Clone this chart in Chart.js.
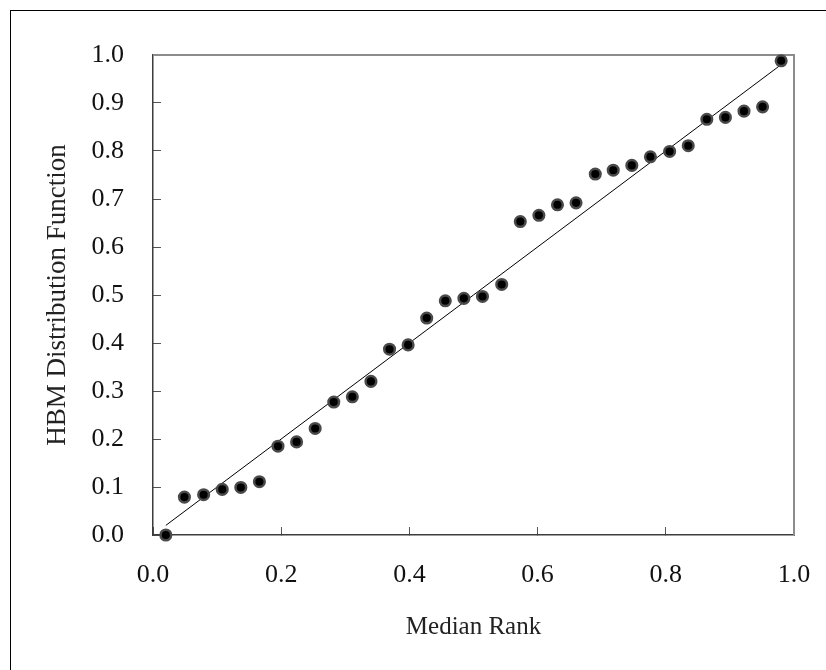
<!DOCTYPE html>
<html>
<head>
<meta charset="utf-8">
<script src="https://cdn.jsdelivr.net/npm/chart.js@4.4.1/dist/chart.umd.min.js"></script>
<style>
    html, body { margin: 0; padding: 0; background: #fff; }
    #wrap { width: 826px; height: 670px; }
</style>
</head>
<body>
<div id="wrap"><canvas id="rankChart" width="826" height="670"></canvas></div>
<script>
var medianRank = [0.020, 0.049, 0.079, 0.108, 0.137, 0.166, 0.195, 0.224, 0.253, 0.282,
    0.311, 0.340, 0.369, 0.398, 0.427, 0.456, 0.485, 0.514, 0.544, 0.573,
    0.602, 0.631, 0.660, 0.690, 0.718, 0.747, 0.776, 0.806, 0.835, 0.864,
    0.893, 0.922, 0.951, 0.980];
var hbmValues = [0.000, 0.079, 0.084, 0.095, 0.099, 0.111, 0.185, 0.194, 0.222, 0.277,
    0.288, 0.320, 0.387, 0.396, 0.452, 0.488, 0.493, 0.497, 0.522, 0.653,
    0.666, 0.688, 0.692, 0.752, 0.760, 0.770, 0.788, 0.799, 0.811, 0.866,
    0.870, 0.883, 0.892, 0.988];
var refLineX = [0.02, 0.98];
var refLineY = [0.02, 0.98];
var xTicks = [0, 0.2, 0.4, 0.6, 0.8, 1.0];
var yTicks = [0, 0.1, 0.2, 0.3, 0.4, 0.5, 0.6, 0.7, 0.8, 0.9, 1.0];

var serif = "'Liberation Serif', 'Times New Roman', serif";

var toPoints = function(xs, ys) {
    return xs.map(function(x, i) {
        return { x: x, y: ys[i] };
    });
};

// white page, outer frame and the grey top/right edges of the plot box
var framePlugin = {
    id: 'frame',
    beforeDraw: function(chart) {
        var ctx = chart.ctx;
        ctx.save();
        ctx.fillStyle = '#fff';
        ctx.fillRect(0, 0, chart.width, chart.height);
        ctx.strokeStyle = '#000';
        ctx.lineWidth = 1;
        ctx.strokeRect(10.5, 10.5, 840, 700);
        ctx.restore();
    },
    beforeDatasetsDraw: function(chart) {
        var a = chart.chartArea;
        var ctx = chart.ctx;
        ctx.save();
        ctx.strokeStyle = '#8c8c8c';
        ctx.lineWidth = 2;
        ctx.beginPath();
        ctx.moveTo(a.left, a.top);
        ctx.lineTo(a.right, a.top);
        ctx.lineTo(a.right, a.bottom);
        ctx.stroke();
        ctx.restore();
    }
};

new Chart(document.getElementById('rankChart'), {
    type: 'scatter',
    data: {
        datasets: [{
            label: 'HBM',
            data: toPoints(medianRank, hbmValues),
            backgroundColor: '#000',
            borderColor: '#4a4a4a',
            borderWidth: 2.5,
            pointRadius: 5.3,
            clip: false
        }, {
            type: 'line',
            label: 'y = x',
            data: toPoints(refLineX, refLineY),
            borderColor: '#000',
            borderWidth: 1,
            pointRadius: 0,
            fill: false
        }]
    },
    options: {
        responsive: false,
        animation: false,
        events: [],
        layout: { padding: { left: 0, top: 55, right: 32, bottom: 0 } },
        plugins: {
            legend: { display: false },
            tooltip: { enabled: false }
        },
        scales: {
            x: {
                type: 'linear',
                min: 0,
                max: 1,
                afterBuildTicks: function(scale) {
                    scale.ticks = xTicks.map(function(v) { return { value: v }; });
                },
                afterFit: function(scale) {
                    scale.height = 135;
                    // big tick padding would otherwise eat into the right side
                    scale.paddingLeft = 0;
                    scale.paddingRight = 0;
                },
                grid: { drawOnChartArea: false, tickLength: -8, tickColor: '#555', tickWidth: 1 },
                border: { color: '#3c3c3c', width: 1.5 },
                ticks: {
                    padding: 33,
                    color: '#111',
                    font: { family: serif, size: 26 },
                    callback: function(v) { return Number(v).toFixed(1); }
                },
                title: {
                    display: true,
                    text: 'Median Rank',
                    color: '#222',
                    font: { family: serif, size: 25 },
                    padding: { top: 0, bottom: 28 }
                }
            },
            y: {
                type: 'linear',
                min: 0,
                max: 1,
                afterBuildTicks: function(scale) {
                    scale.ticks = yTicks.map(function(v) { return { value: v }; });
                },
                afterFit: function(scale) { scale.width = 153; },
                grid: { drawOnChartArea: false, tickLength: -8, tickColor: '#555', tickWidth: 1 },
                border: { color: '#3c3c3c', width: 1.5 },
                ticks: {
                    padding: 37,
                    color: '#111',
                    font: { family: serif, size: 26 },
                    callback: function(v) { return Number(v).toFixed(1); }
                },
                title: {
                    display: true,
                    text: 'HBM Distribution Function',
                    color: '#222',
                    font: { family: serif, size: 27 },
                    padding: { top: 42, bottom: 0 }
                }
            }
        }
    },
    plugins: [framePlugin]
});
</script>
</body>
</html>
